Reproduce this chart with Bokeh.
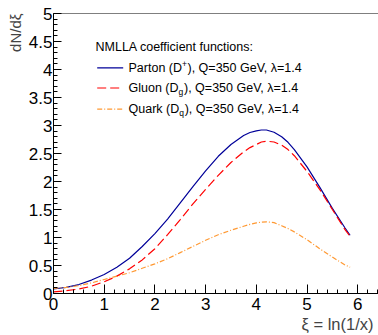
from bokeh.plotting import figure
from bokeh.models import Range1d, FixedTicker, NumeralTickFormatter, Span, Title
from bokeh.embed import file_html
from bokeh.resources import INLINE
from bokeh.core.properties import value

# ---- data ----
xi = [0.0, 0.25, 0.5, 0.75, 1.0, 1.25, 1.5, 1.75, 2.0, 2.25, 2.5, 2.75, 3.0,
      3.25, 3.5, 3.75, 3.875, 4.0, 4.1, 4.2, 4.35, 4.5, 4.625, 4.75, 5.0, 5.25,
      5.5, 5.75, 5.85]
parton = [0.08, 0.11, 0.16, 0.24, 0.34, 0.47, 0.63, 0.84, 1.07, 1.33, 1.62, 1.91, 2.19,
          2.45, 2.66, 2.82, 2.875, 2.905, 2.92, 2.92, 2.88, 2.80, 2.70, 2.57, 2.26, 1.90,
          1.52, 1.17, 1.04]
gluon = [0.03, 0.05, 0.08, 0.13, 0.21, 0.31, 0.44, 0.60, 0.80, 1.05, 1.32, 1.60, 1.86,
         2.11, 2.34, 2.53, 2.605, 2.66, 2.705, 2.72, 2.705, 2.65, 2.57, 2.46, 2.18, 1.86,
         1.50, 1.14, 1.02]
quark = [0.09, 0.11, 0.14, 0.19, 0.25, 0.31, 0.37, 0.45, 0.53, 0.62, 0.73, 0.84, 0.95,
         1.05, 1.13, 1.20, 1.235, 1.26, 1.275, 1.28, 1.265, 1.21, 1.16, 1.10, 0.96, 0.80,
         0.65, 0.51, 0.47]

x_ticks = [0, 1, 2, 3, 4, 5, 6]
y_ticks = [0, 0.5, 1, 1.5, 2, 2.5, 3, 3.5, 4, 4.5, 5]
x_minor = [round(i * 0.2, 2) for i in range(33)]
y_minor = [round(i * 0.1, 2) for i in range(51)]

legend_header = "NMLLA coefficient functions:"
legend_pre = ["Parton (D", "Gluon (D", "Quark (D"]
legend_script = ["+", "g", "q"]
legend_post = ["), Q=350 GeV, \u03bb=1.4", "), Q=350 GeV, \u03bb=1.4", "), Q=350 GeV, \u03bb=1.4"]
x_title = "\u03be = ln(1/x)"
y_title = "dN/d\u03be"

# ---- layout ----
FONT = "Liberation Sans"
W, H = 378, 335
BL, BT, BB, BR = 53, 13, 42, 0
X_MAX = 6.41
FW, FH = W - BL - BR, H - BT - BB


def px_x(px):
    return (px - BL) / (FW / X_MAX)


def px_y(py):
    return 5 - (py - BT) / (FH / 5.0)


p = figure(width=W, height=H, x_range=Range1d(0, X_MAX), y_range=Range1d(0, 5),
           output_backend="svg", toolbar_location=None,
           min_border_left=BL, min_border_right=BR, min_border_top=BT, min_border_bottom=BB)
p.outline_line_color = None
p.grid.visible = False
p.background_fill_color = "white"
p.border_fill_color = "white"

for ax, ticks, minor, tin in ((p.xaxis[0], x_ticks, x_minor, 9), (p.yaxis[0], y_ticks, y_minor, 8)):
    ax.ticker = FixedTicker(ticks=ticks, minor_ticks=minor)
    ax.formatter = NumeralTickFormatter(format="0.[0]")
    ax.major_tick_in = tin
    ax.major_tick_out = 0
    ax.minor_tick_in = 4
    ax.minor_tick_out = 0
    ax.axis_line_color = "black"
    ax.major_tick_line_color = "black"
    ax.minor_tick_line_color = "black"
    ax.major_label_text_font = FONT
    ax.major_label_text_font_size = "17px"
    ax.major_label_text_color = "black"
p.xaxis.major_label_standoff = 4
p.yaxis.major_label_standoff = 1

p.add_layout(Title(text=x_title, align="right", text_font=FONT, text_font_size="16.5px",
                   text_font_style="normal", standoff=0, offset=5), "below")
p.add_layout(Title(text=y_title, align="right", text_font=FONT, text_font_size="15px",
                   text_font_style="normal", standoff=3, offset=0), "left")

p.add_layout(Span(location=5, dimension="width", line_color="black", line_width=1))

colors = ["#000099", "#ff0000", "#ff9933"]
dashes = ["solid", "9 4", "5 2 1 2"]
series = [parton, gluon, quark]
for ys, c, d in zip(series, colors, dashes):
    p.line(xi, ys, line_color=c, line_width=1.2, line_dash=d)

# legend (built by hand so the sub/superscripts can be drawn)
p.text(x=[px_x(95)], y=[px_y(46.5)], text=[legend_header], text_baseline="middle",
       text_font=value(FONT), text_font_size="12.5px", text_color="black")
row_py = [67.3, 87.5, 108.7]
pre_w = [53.5, 50.0, 50.7]
script_dy = [-4, 4, 4]
for i in range(3):
    yr = px_y(row_py[i])
    p.line([px_x(96.7), px_x(122.7)], [yr, yr], line_color=colors[i], line_width=1.2,
           line_dash=dashes[i])
    xt = px_x(128)
    p.text(x=[xt], y=[yr], text=[legend_pre[i]], text_baseline="middle",
           text_font=value(FONT), text_font_size="12.5px", text_color="black")
    p.text(x=[xt], y=[yr], text=[legend_script[i]], text_baseline="middle",
           x_offset=pre_w[i], y_offset=script_dy[i],
           text_font=value(FONT), text_font_size="8.5px", text_color="black")
    p.text(x=[xt], y=[yr], text=[legend_post[i]], text_baseline="middle",
           x_offset=pre_w[i] + 5.5,
           text_font=value(FONT), text_font_size="12.5px", text_color="black")

open("out.html", "w").write(file_html(p, INLINE))
